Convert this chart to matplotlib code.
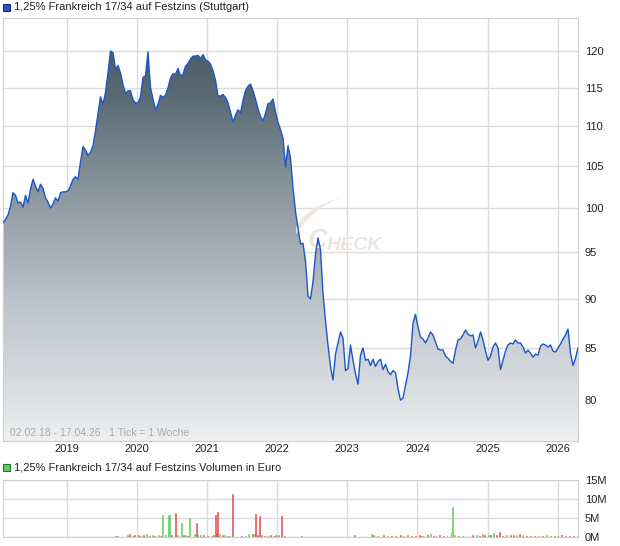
import numpy as np
import pandas as pd
import matplotlib
matplotlib.use('Agg')
import matplotlib.pyplot as plt
from matplotlib.colors import LinearSegmentedColormap
from matplotlib.patches import Rectangle, Polygon

plt.rcParams['font.family'] = ['Liberation Sans', 'DejaVu Sans']

title = '1,25% Frankreich 17/34 auf Festzins (Stuttgart)'
vol_title = '1,25% Frankreich 17/34 auf Festzins Volumen in Euro'
range_note = '02.02.18 - 17.04.26   1 Tick = 1 Woche'
start, end = '2018-02-02', '2026-04-17'

# price (evenly spaced from start to end)
prices = [
    98.3, 98.7, 99.2, 100.2, 101.8, 101.5, 100.6, 100.7, 100.1, 101.5,
    100.6, 102.2, 103.4, 102.6, 101.9, 102.8, 102.3, 101.2, 100.7, 100.0,
    100.5, 101.2, 100.8, 101.8, 101.9, 101.9, 102.0, 102.6, 103.4, 103.7,
    103.4, 105.5, 107.4, 107.0, 106.3, 106.7, 107.5, 109.4, 111.6, 113.8,
    112.8, 114.4, 117.0, 120.0, 119.8, 117.5, 118.0, 117.0, 115.4, 114.2,
    114.6, 114.6, 113.4, 113.0, 113.0, 113.8, 116.4, 116.6, 119.9, 115.0,
    113.5, 112.1, 112.8, 114.0, 113.7, 114.0, 115.0, 116.3, 116.9, 116.8,
    117.6, 116.6, 116.8, 117.9, 118.3, 118.9, 119.3, 119.3, 119.4, 119.0,
    119.5, 118.8, 118.6, 118.2, 117.3, 116.0, 113.9, 113.9, 114.1, 113.7,
    113.0, 111.8, 110.5, 111.4, 112.1, 111.7, 113.3, 114.6, 115.2, 115.5,
    114.6, 113.5, 112.2, 111.2, 110.7, 111.6, 112.9, 113.0, 113.5, 111.8,
    110.5, 109.5, 108.5, 104.9, 107.5, 106.0, 102.4, 99.6, 97.7, 95.9,
    96.0, 94.0, 90.3, 90.0, 91.8, 94.8, 96.6, 95.3, 90.6, 87.7,
    85.3, 83.2, 81.9, 84.4, 85.5, 86.6, 86.0, 82.8, 83.0, 85.3,
    83.8, 82.5, 81.5, 84.3, 85.0, 83.8, 83.9, 83.3, 83.9, 83.2,
    83.7, 83.9, 82.9, 83.4, 82.7, 82.4, 82.8, 82.6, 81.1, 80.0,
    80.2, 81.4, 82.6, 84.2, 87.5, 88.4, 87.1, 86.1, 85.9, 85.5,
    86.0, 86.6, 86.3, 85.6, 84.9, 84.8, 84.8, 84.2, 84.0, 83.7,
    83.5, 84.8, 85.8, 85.9, 86.3, 86.8, 86.4, 86.2, 86.3, 85.0,
    85.7, 86.6, 85.8, 84.7, 83.8, 84.2, 85.1, 85.5, 85.0, 82.9,
    83.8, 84.7, 85.3, 85.5, 85.4, 85.8, 85.5, 85.5, 85.1, 84.5,
    84.8, 84.5, 84.1, 84.4, 84.3, 85.2, 85.4, 85.3, 85.1, 85.3,
    84.7, 84.6, 85.0, 85.4, 85.9, 86.3, 86.9, 84.5, 83.3, 84.0,
    85.0,
]

price_ticks = [80, 85, 90, 95, 100, 105, 110, 115, 120]
years = [2019, 2020, 2021, 2022, 2023, 2024, 2025, 2026]

# volume bars: time as decimal year, value in million euro, g = up / r = down
vol_year = [
    2018.085, 2019.104, 2019.697, 2019.726, 2019.867, 2019.889, 2019.934, 2019.963,
    2020.019, 2020.047, 2020.087, 2020.132, 2020.177, 2020.217, 2020.256, 2020.301,
    2020.330, 2020.369, 2020.403, 2020.454, 2020.466, 2020.499, 2020.544, 2020.584,
    2020.629, 2020.669, 2020.697, 2020.724, 2020.753, 2020.827, 2020.849, 2020.866,
    2020.911, 2020.951, 2021.007, 2021.064, 2021.092, 2021.120, 2021.137, 2021.149,
    2021.177, 2021.216, 2021.250, 2021.290, 2021.317, 2021.357, 2021.431, 2021.487,
    2021.544, 2021.589, 2021.646, 2021.669, 2021.690, 2021.713, 2021.747, 2021.770,
    2021.814, 2021.854, 2021.900, 2021.939, 2021.979, 2022.024, 2022.057, 2022.108,
    2022.346, 2023.097, 2023.350, 2023.379, 2023.436, 2023.520, 2023.577, 2023.633,
    2023.690, 2023.757, 2023.803, 2023.859, 2023.916, 2023.971, 2024.029, 2024.056,
    2024.084, 2024.141, 2024.186, 2024.226, 2024.266, 2024.310, 2024.367, 2024.423,
    2024.480, 2024.497, 2024.536, 2024.593, 2024.650, 2024.694, 2024.751, 2024.790,
    2024.847, 2024.887, 2024.931, 2024.960, 2025.016, 2025.044, 2025.090, 2025.129,
    2025.169, 2025.214, 2025.270, 2025.327, 2025.371, 2025.411, 2025.451, 2025.496,
    2025.553, 2025.609, 2025.666, 2025.721, 2025.779, 2025.836, 2025.891, 2025.949,
    2026.004, 2026.061, 2026.117, 2026.174, 2026.230, 2026.276,
]
vol_mio = [
    0.1, 0.1, 0.2, 0.2, 0.5, 0.8, 0.3, 0.4,
    0.6, 0.3, 0.5, 0.7, 0.3, 0.6, 0.3, 0.4,
    0.3, 5.9, 0.4, 5.9, 5.9, 0.6, 6.2, 0.5,
    3.7, 0.5, 0.6, 0.2, 5.0, 0.7, 3.8, 0.6,
    0.5, 0.4, 0.3, 0.3, 0.5, 5.9, 1.0, 6.7,
    0.8, 0.6, 0.4, 0.3, 0.2, 11.2, 0.1, 0.2,
    0.3, 0.8, 0.8, 0.8, 6.0, 0.5, 5.6, 0.4,
    0.3, 0.3, 0.6, 0.3, 0.5, 0.4, 5.6, 0.2,
    0.2, 0.4, 0.8, 0.4, 0.2, 0.4, 0.2, 0.3,
    0.3, 0.6, 0.3, 0.4, 0.3, 0.2, 0.4, 0.3,
    0.3, 0.5, 0.8, 0.3, 0.6, 0.4, 0.3, 0.5,
    1.2, 7.8, 0.4, 0.3, 0.3, 0.3, 0.2, 0.4,
    0.5, 0.3, 0.8, 0.4, 0.4, 0.5, 1.0, 0.6,
    1.3, 0.3, 0.5, 0.4, 0.6, 0.4, 0.7, 0.4,
    0.3, 0.2, 0.3, 0.2, 0.3, 0.4, 0.2, 0.3,
    0.2, 0.6, 0.2, 0.3, 0.2, 0.3,
]
vol_dir = list(
    'ggrggrgr'
    'rgrgrgrg'
    'rggggrrg'
    'grgrggrr'
    'grrgrrrr'
    'grgrgrgr'
    'ggrgrrrr'
    'rgrgrrrr'
    'rrgrrrgr'
    'rrgrrrrr'
    'grgrrrrr'
    'rggrgrrr'
    'grgrgrgr'
    'rrgrrgrg'
    'rrrgrgrr'
    'grrrrr'
)

line_col = '#1a57c8'
grid_col = '#dcdcdc'
frame_col = '#cfcfcf'
up_col = '#5ccf5c'
down_col = '#de4f4f'

W, H = 620, 546
fig = plt.figure(figsize=(W / 100, H / 100), dpi=100)

def box(l, t, r, b):
    return [l / W, 1 - b / H, (r - l) / W, (b - t) / H]

dates = pd.date_range(start, end, periods=len(prices))
prices = np.array(prices)

ax = fig.add_axes(box(3, 18, 578, 441))
ax.set_yscale('log')
ax.set_xlim(pd.Timestamp(start), pd.Timestamp(end))
ax.set_ylim(76.3, 124.7)
ax.set_autoscale_on(False)

# area with a vertical gradient, clipped to the price curve
area = ax.fill_between(dates, prices, 60, facecolor='none', edgecolor='none')
cmap = LinearSegmentedColormap.from_list('slate', [
    (0.0, '#45545f'), (0.19, '#5b6b76'), (0.43, '#8e9aa2'),
    (0.67, '#bcc3c8'), (0.90, '#dde0e3'), (1.0, '#eef0f1')])
grad = np.linspace(0, 1, 256).reshape(-1, 1)
im = ax.imshow(grad, extent=[0, 1, 0, 1], transform=ax.transAxes,
               aspect='auto', cmap=cmap, origin='upper', zorder=1)
im.set_clip_path(area.get_paths()[0], transform=ax.transData)
ax.plot(dates, prices, color=line_col, lw=1.0, zorder=3)

ax.set_yticks(price_ticks)
ax.set_yticklabels([str(v) for v in price_ticks])
ax.yaxis.set_minor_locator(matplotlib.ticker.NullLocator())
ax.yaxis.tick_right()
ax.set_xticks([pd.Timestamp(f'{y}-01-01') for y in years])
ax.set_xticklabels([str(y) for y in years])
ax.tick_params(axis='both', length=0, labelsize=8, colors='#222222')
ax.tick_params(axis='y', pad=5)
ax.tick_params(axis='x', pad=2)
ax.grid(True, color=grid_col, lw=1, zorder=0)
ax.set_axisbelow(True)
for s in ax.spines.values():
    s.set_color(frame_col)

ax.text(7 / 575, 8 / 423, range_note, transform=ax.transAxes,
        fontsize=7.5, color='#a8a8a8', va='center', ha='left', zorder=4)

# watermark
wm = '#ebe6e1'
ax.text(0.529, 0.472, 'C', transform=ax.transAxes, fontsize=20,
        style='italic', weight='bold', color=wm, zorder=2, va='center')
ax.text(0.563, 0.462, 'HECK', transform=ax.transAxes, fontsize=14,
        style='italic', weight='bold', color=wm, zorder=2, va='center')
swoosh = [(296, 234), (306, 221), (319, 209), (331, 202), (342, 197),
          (331, 201), (316, 207), (303, 217), (296, 228)]
ax.add_patch(Polygon([((x - 3) / 575, (441 - y) / 423) for x, y in swoosh],
                     closed=True, transform=ax.transAxes, facecolor=wm,
                     edgecolor='none', zorder=2))

# volume panel
ax2 = fig.add_axes(box(3, 480, 578, 537))
vol_dates = [pd.Timestamp(int(y), 1, 1) + pd.Timedelta(days=(y % 1) * 365.25)
             for y in vol_year]
vcols = [up_col if d == 'g' else down_col for d in vol_dir]
ax2.bar(vol_dates, np.array(vol_mio) * 1e6, width=5, color=vcols,
        edgecolor=vcols, lw=0.4, zorder=2)
ax2.set_xlim(pd.Timestamp(start), pd.Timestamp(end))
ax2.set_ylim(0, 15e6)
ax2.set_yticks([0, 5e6, 10e6, 15e6])
ax2.set_yticklabels(['0M', '5M', '10M', '15M'])
ax2.yaxis.tick_right()
ax2.set_xticks([pd.Timestamp(f'{y}-01-01') for y in years])
ax2.set_xticklabels([])
ax2.tick_params(axis='both', length=0, labelsize=8, colors='#222222')
ax2.tick_params(axis='y', pad=5)
ax2.grid(True, color=grid_col, lw=1, zorder=0)
ax2.set_axisbelow(True)
for s in ax2.spines.values():
    s.set_color(frame_col)

# legends
fig.add_artist(Rectangle((3 / W, 1 - 11 / H), 7 / W, 7 / H, transform=fig.transFigure,
                         facecolor='#1f57c0', edgecolor='#1b2f66', lw=0.8))
fig.text(14 / W, 1 - 7.5 / H, title, fontsize=8, va='center', color='#222222')
fig.add_artist(Rectangle((3 / W, 1 - 471 / H), 7 / W, 7 / H, transform=fig.transFigure,
                         facecolor=up_col, edgecolor='#2f6a2f', lw=0.8))
fig.text(14 / W, 1 - 467.5 / H, vol_title, fontsize=8, va='center', color='#222222')

fig.savefig('out.png', dpi=100)
